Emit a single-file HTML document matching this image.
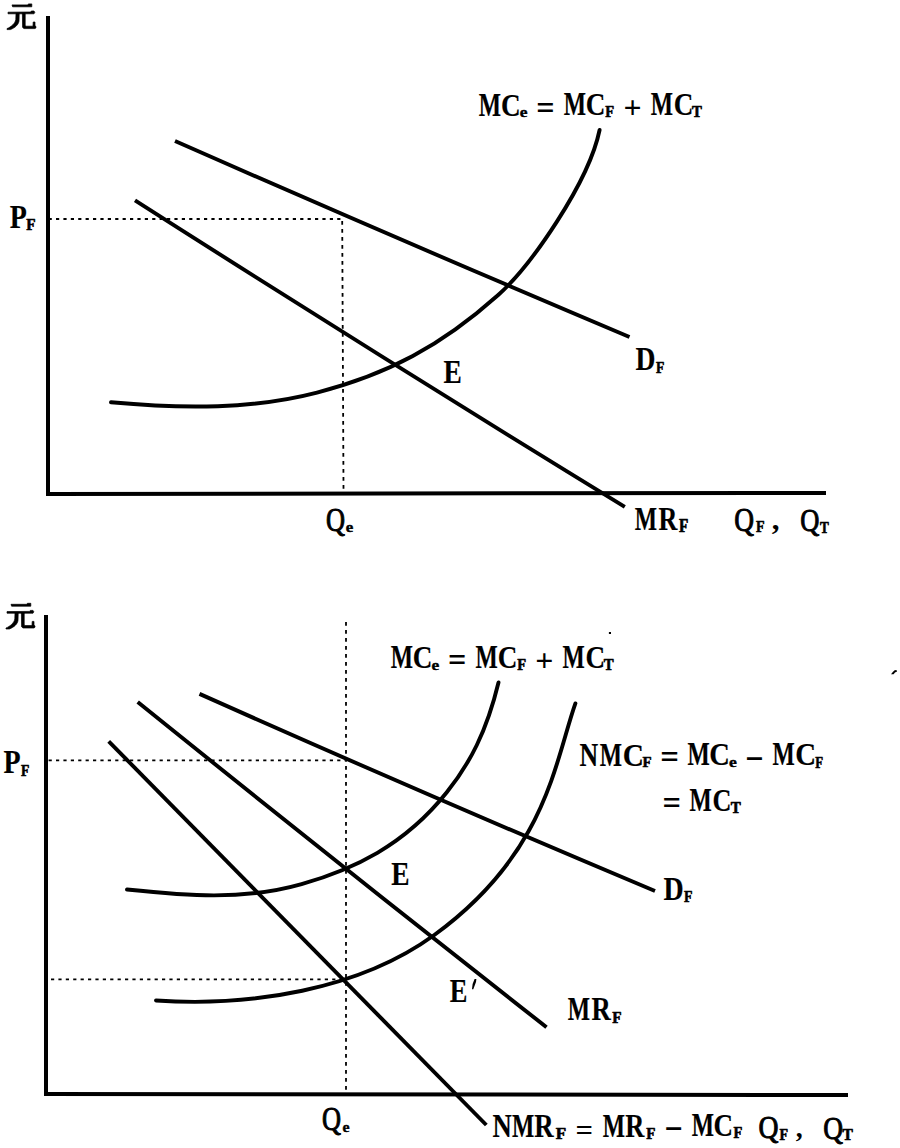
<!DOCTYPE html>
<html><head><meta charset="utf-8"><title>MC diagram</title><style>
html,body{margin:0;padding:0;background:#fff;width:900px;height:1148px;overflow:hidden}
svg{display:block}
text{font-family:"Liberation Serif",serif;font-weight:bold;fill:#000}
</style></head><body>
<svg width="900" height="1148" viewBox="0 0 900 1148">
<path d="M46,16H50V491.9L826,491V495L46,495.9Z" fill="#000"/>
<line x1="48.6" y1="219" x2="343" y2="219" stroke="#000" stroke-width="1.8" stroke-dasharray="3.2 4.2"/>
<line x1="342.2" y1="221" x2="343.5" y2="489" stroke="#000" stroke-width="1.8" stroke-dasharray="3.7 4.3"/>
<path d="M175,141 Q402.25,241.00 629.5,337" fill="none" stroke="#000" stroke-width="3.9" stroke-linecap="butt"/>
<path d="M135,200.3 Q379.90,356.95 624.8,506.8" fill="none" stroke="#000" stroke-width="3.9" stroke-linecap="butt"/>
<path d="M111.0,402.3 C184.3,409.1 253.7,409.1 317.0,392.6 C388.1,374.2 440.9,346.1 498.2,295.0 C530.4,266.3 588.7,183.0 599.6,130.0" fill="none" stroke="#000" stroke-width="3.9" stroke-linecap="round"/>
<path d="M44,615H48V1092L848,1093V1097L44,1096Z" fill="#000"/>
<line x1="48.6" y1="760.3" x2="345" y2="760.3" stroke="#000" stroke-width="1.8" stroke-dasharray="3.2 4.2"/>
<line x1="51" y1="979.3" x2="345" y2="979.3" stroke="#000" stroke-width="1.8" stroke-dasharray="3.2 4.2"/>
<line x1="346" y1="622" x2="346" y2="1093" stroke="#000" stroke-width="1.8" stroke-dasharray="3.7 4.3"/>
<path d="M199.5,693.9 Q427.25,795.45 655,891" fill="none" stroke="#000" stroke-width="3.9" stroke-linecap="butt"/>
<path d="M137.7,702 Q342.10,866.80 546.5,1027.2" fill="none" stroke="#000" stroke-width="3.9" stroke-linecap="butt"/>
<path d="M108.7,741.3 Q297.50,933.95 486.3,1125" fill="none" stroke="#000" stroke-width="3.9" stroke-linecap="butt"/>
<path d="M127.0,889.5 C185.3,895.6 242.8,900.8 301.6,884.1 C352.7,869.6 404.2,845.8 446.8,792.3 C469.8,763.5 486.7,731.5 498.5,682.5" fill="none" stroke="#000" stroke-width="3.9" stroke-linecap="round"/>
<path d="M156.0,1000.5 C250.1,1006.9 359.0,989.9 434.3,935.0 C546.0,853.6 554.7,762.6 575.4,703.4" fill="none" stroke="#000" stroke-width="3.9" stroke-linecap="round"/>
<text transform="matrix(0.2356 0 0 0.3299 478.87 115.50)" font-size="100" stroke="#000" stroke-width="0.6" stroke-linejoin="round">M</text>
<text transform="matrix(0.2719 0 0 0.3245 500.95 115.51)" font-size="100" stroke="#000" stroke-width="0.6" stroke-linejoin="round">C</text>
<text transform="matrix(0.1740 0 0 0.1354 519.67 117.07)" font-size="100" stroke="#000" stroke-width="3.0" stroke-linejoin="round">e</text>
<text transform="matrix(0.3227 0 0 0.3333 536.19 118.56)" font-size="100">=</text>
<text transform="matrix(0.2356 0 0 0.3299 563.67 115.30)" font-size="100" stroke="#000" stroke-width="0.6" stroke-linejoin="round">M</text>
<text transform="matrix(0.2719 0 0 0.3245 585.85 115.31)" font-size="100" stroke="#000" stroke-width="0.6" stroke-linejoin="round">C</text>
<text transform="matrix(0.1451 0 0 0.1713 605.34 117.46)" font-size="100" stroke="#000" stroke-width="4.0" stroke-linejoin="round">F</text>
<text transform="matrix(0.3184 0 0 0.3220 623.52 118.19)" font-size="100">+</text>
<text transform="matrix(0.2356 0 0 0.3299 650.67 115.40)" font-size="100" stroke="#000" stroke-width="0.6" stroke-linejoin="round">M</text>
<text transform="matrix(0.2719 0 0 0.3245 673.75 115.41)" font-size="100" stroke="#000" stroke-width="0.6" stroke-linejoin="round">C</text>
<text transform="matrix(0.1479 0 0 0.1698 692.06 117.46)" font-size="100" stroke="#000" stroke-width="4.0" stroke-linejoin="round">T</text>
<text transform="matrix(0.2765 0 0 0.3299 635.60 369.80)" font-size="100" stroke="#000" stroke-width="0.6" stroke-linejoin="round">D</text>
<text transform="matrix(0.1365 0 0 0.1727 656.04 372.65)" font-size="100" stroke="#000" stroke-width="4.0" stroke-linejoin="round">F</text>
<text transform="matrix(0.2745 0 0 0.3299 443.61 382.80)" font-size="100" stroke="#000" stroke-width="0.6" stroke-linejoin="round">E</text>
<text transform="matrix(0.2356 0 0 0.3299 634.67 529.80)" font-size="100" stroke="#000" stroke-width="0.6" stroke-linejoin="round">M</text>
<text transform="matrix(0.2612 0 0 0.3299 658.53 530.00)" font-size="100" stroke="#000" stroke-width="0.6" stroke-linejoin="round">R</text>
<text transform="matrix(0.1519 0 0 0.1785 679.04 532.24)" font-size="100" stroke="#000" stroke-width="4.0" stroke-linejoin="round">F</text>
<text transform="matrix(0.2637 0 0 0.3383 326.01 530.71)" font-size="100" style="font-weight:normal" stroke="#000" stroke-width="3.0" stroke-linejoin="round">Q</text>
<text transform="matrix(0.1692 0 0 0.1531 345.68 532.43)" font-size="100" stroke="#000" stroke-width="3.0" stroke-linejoin="round">e</text>
<text transform="matrix(0.2738 0 0 0.3348 734.29 530.67)" font-size="100" style="font-weight:normal" stroke="#000" stroke-width="3.0" stroke-linejoin="round">Q</text>
<text transform="matrix(0.1400 0 0 0.1670 756.04 532.27)" font-size="100" stroke="#000" stroke-width="4.0" stroke-linejoin="round">F</text>
<text transform="matrix(0.3120 0 0 0.2916 771.79 528.99)" font-size="100">,</text>
<text transform="matrix(0.2651 0 0 0.3208 800.31 530.72)" font-size="100" style="font-weight:normal" stroke="#000" stroke-width="3.0" stroke-linejoin="round">Q</text>
<text transform="matrix(0.1316 0 0 0.1698 819.96 532.66)" font-size="100" stroke="#000" stroke-width="4.0" stroke-linejoin="round">T</text>
<text transform="matrix(0.2800 0 0 0.3299 9.81 227.70)" font-size="100" stroke="#000" stroke-width="0.6" stroke-linejoin="round">P</text>
<text transform="matrix(0.1519 0 0 0.1655 26.24 230.07)" font-size="100" stroke="#000" stroke-width="4.0" stroke-linejoin="round">F</text>
<path transform="translate(0 0)" d="M12,4.9 L28,4.9 L28.4,3.9 L31.8,3.9 L31.8,6.8 L12.6,6.8 Z M8,12.2 L30.8,12.0 L31.3,11 L34,11 L34.8,12.4 L34,13.8 L8,13.8 Z M16,13.5 L19.2,13.5 L19,21 C18.5,24.5 15.5,27.5 10.4,29.6 L7,29.6 L7,28.6 C11,27 15.2,23.5 15.8,19.5 Z M22.4,13.6 L25.2,13.6 L25.2,25.6 L26,26.2 L33,26.2 L33.2,22 L35,22 L35,25.8 L36,26.5 L36,27.8 L35,28.6 L24,28.6 L22.6,27.4 Z" fill="#000" stroke="#000" stroke-width="0.7" stroke-linejoin="round"><title>元</title></path>
<text transform="matrix(0.2356 0 0 0.3299 390.67 668.20)" font-size="100" stroke="#000" stroke-width="0.6" stroke-linejoin="round">M</text>
<text transform="matrix(0.2719 0 0 0.3245 412.75 668.21)" font-size="100" stroke="#000" stroke-width="0.6" stroke-linejoin="round">C</text>
<text transform="matrix(0.1740 0 0 0.1354 431.47 669.77)" font-size="100" stroke="#000" stroke-width="3.0" stroke-linejoin="round">e</text>
<text transform="matrix(0.3227 0 0 0.3333 447.99 671.26)" font-size="100">=</text>
<text transform="matrix(0.2356 0 0 0.3299 475.47 668.00)" font-size="100" stroke="#000" stroke-width="0.6" stroke-linejoin="round">M</text>
<text transform="matrix(0.2719 0 0 0.3245 497.65 668.01)" font-size="100" stroke="#000" stroke-width="0.6" stroke-linejoin="round">C</text>
<text transform="matrix(0.1451 0 0 0.1713 517.14 670.16)" font-size="100" stroke="#000" stroke-width="4.0" stroke-linejoin="round">F</text>
<text transform="matrix(0.3184 0 0 0.3220 535.32 670.89)" font-size="100">+</text>
<text transform="matrix(0.2356 0 0 0.3299 562.47 668.10)" font-size="100" stroke="#000" stroke-width="0.6" stroke-linejoin="round">M</text>
<text transform="matrix(0.2719 0 0 0.3245 585.55 668.11)" font-size="100" stroke="#000" stroke-width="0.6" stroke-linejoin="round">C</text>
<text transform="matrix(0.1479 0 0 0.1698 603.86 670.16)" font-size="100" stroke="#000" stroke-width="4.0" stroke-linejoin="round">T</text>
<text transform="matrix(0.2586 0 0 0.3299 579.49 765.70)" font-size="100" stroke="#000" stroke-width="0.6" stroke-linejoin="round">N</text>
<text transform="matrix(0.2356 0 0 0.3299 599.67 765.50)" font-size="100" stroke="#000" stroke-width="0.6" stroke-linejoin="round">M</text>
<text transform="matrix(0.2935 0 0 0.3245 622.66 765.51)" font-size="100" stroke="#000" stroke-width="0.6" stroke-linejoin="round">C</text>
<text transform="matrix(0.1485 0 0 0.1540 642.44 767.09)" font-size="100" stroke="#000" stroke-width="4.0" stroke-linejoin="round">F</text>
<text transform="matrix(0.3291 0 0 0.3333 660.16 768.16)" font-size="100">=</text>
<text transform="matrix(0.2356 0 0 0.3299 687.57 765.30)" font-size="100" stroke="#000" stroke-width="0.6" stroke-linejoin="round">M</text>
<text transform="matrix(0.2852 0 0 0.3245 709.19 765.31)" font-size="100" stroke="#000" stroke-width="0.6" stroke-linejoin="round">C</text>
<text transform="matrix(0.1764 0 0 0.1413 728.96 767.46)" font-size="100" stroke="#000" stroke-width="3.0" stroke-linejoin="round">e</text>
<text transform="matrix(0.3227 0 0 0.3724 745.30 770.85)" font-size="100">−</text>
<text transform="matrix(0.2356 0 0 0.3299 772.47 765.40)" font-size="100" stroke="#000" stroke-width="0.6" stroke-linejoin="round">M</text>
<text transform="matrix(0.2885 0 0 0.3245 795.18 765.41)" font-size="100" stroke="#000" stroke-width="0.6" stroke-linejoin="round">C</text>
<text transform="matrix(0.1280 0 0 0.1742 815.24 768.25)" font-size="100" stroke="#000" stroke-width="4.0" stroke-linejoin="round">F</text>
<text transform="matrix(0.3248 0 0 0.3333 662.38 813.76)" font-size="100">=</text>
<text transform="matrix(0.2356 0 0 0.3299 689.47 810.80)" font-size="100" stroke="#000" stroke-width="0.6" stroke-linejoin="round">M</text>
<text transform="matrix(0.2620 0 0 0.3245 712.40 810.81)" font-size="100" stroke="#000" stroke-width="0.6" stroke-linejoin="round">C</text>
<text transform="matrix(0.1508 0 0 0.1756 730.87 812.65)" font-size="100" stroke="#000" stroke-width="4.0" stroke-linejoin="round">T</text>
<text transform="matrix(0.2796 0 0 0.3299 663.39 899.90)" font-size="100" stroke="#000" stroke-width="0.6" stroke-linejoin="round">D</text>
<text transform="matrix(0.1382 0 0 0.1713 683.94 902.46)" font-size="100" stroke="#000" stroke-width="4.0" stroke-linejoin="round">F</text>
<text transform="matrix(0.2745 0 0 0.3299 391.31 884.90)" font-size="100" stroke="#000" stroke-width="0.6" stroke-linejoin="round">E</text>
<text transform="matrix(0.2646 0 0 0.3299 449.63 1001.80)" font-size="100" stroke="#000" stroke-width="0.6" stroke-linejoin="round">E</text>
<path d="M474.6,979 L476.4,979 L476,982 L473.3,989.2 L472,989.2 L472.6,984 Z" fill="#000"/>
<text transform="matrix(0.2356 0 0 0.3299 567.67 1019.90)" font-size="100" stroke="#000" stroke-width="0.6" stroke-linejoin="round">M</text>
<text transform="matrix(0.2667 0 0 0.3299 591.42 1020.10)" font-size="100" stroke="#000" stroke-width="0.6" stroke-linejoin="round">R</text>
<text transform="matrix(0.1519 0 0 0.1742 612.14 1022.55)" font-size="100" stroke="#000" stroke-width="4.0" stroke-linejoin="round">F</text>
<text transform="matrix(0.2637 0 0 0.3325 322.11 1129.71)" font-size="100" style="font-weight:normal" stroke="#000" stroke-width="3.0" stroke-linejoin="round">Q</text>
<text transform="matrix(0.1595 0 0 0.1413 342.49 1131.86)" font-size="100" stroke="#000" stroke-width="3.0" stroke-linejoin="round">e</text>
<text transform="matrix(0.2673 0 0 0.3299 492.57 1136.60)" font-size="100" stroke="#000" stroke-width="0.6" stroke-linejoin="round">N</text>
<text transform="matrix(0.2356 0 0 0.3299 511.97 1136.60)" font-size="100" stroke="#000" stroke-width="0.6" stroke-linejoin="round">M</text>
<text transform="matrix(0.2681 0 0 0.3299 534.32 1136.70)" font-size="100" stroke="#000" stroke-width="0.6" stroke-linejoin="round">R</text>
<text transform="matrix(0.1707 0 0 0.1698 555.85 1138.86)" font-size="100" stroke="#000" stroke-width="4.0" stroke-linejoin="round">F</text>
<text transform="matrix(0.3076 0 0 0.3000 575.47 1139.50)" font-size="100">=</text>
<text transform="matrix(0.2356 0 0 0.3299 602.87 1136.60)" font-size="100" stroke="#000" stroke-width="0.6" stroke-linejoin="round">M</text>
<text transform="matrix(0.2639 0 0 0.3299 625.23 1136.70)" font-size="100" stroke="#000" stroke-width="0.6" stroke-linejoin="round">R</text>
<text transform="matrix(0.1502 0 0 0.1756 646.34 1139.05)" font-size="100" stroke="#000" stroke-width="4.0" stroke-linejoin="round">F</text>
<text transform="matrix(0.3205 0 0 0.3724 664.51 1141.45)" font-size="100">−</text>
<text transform="matrix(0.2356 0 0 0.3299 691.67 1136.40)" font-size="100" stroke="#000" stroke-width="0.6" stroke-linejoin="round">M</text>
<text transform="matrix(0.2702 0 0 0.3245 713.56 1136.41)" font-size="100" stroke="#000" stroke-width="0.6" stroke-linejoin="round">C</text>
<text transform="matrix(0.1451 0 0 0.1756 733.44 1138.45)" font-size="100" stroke="#000" stroke-width="4.0" stroke-linejoin="round">F</text>
<text transform="matrix(0.2766 0 0 0.3208 758.38 1138.42)" font-size="100" style="font-weight:normal" stroke="#000" stroke-width="3.0" stroke-linejoin="round">Q</text>
<text transform="matrix(0.1400 0 0 0.1684 779.54 1140.26)" font-size="100" stroke="#000" stroke-width="4.0" stroke-linejoin="round">F</text>
<text transform="matrix(0.2768 0 0 0.2651 795.64 1136.90)" font-size="100">,</text>
<text transform="matrix(0.2738 0 0 0.3254 823.29 1139.04)" font-size="100" style="font-weight:normal" stroke="#000" stroke-width="3.0" stroke-linejoin="round">Q</text>
<text transform="matrix(0.1553 0 0 0.1727 842.57 1140.15)" font-size="100" stroke="#000" stroke-width="4.0" stroke-linejoin="round">T</text>
<text transform="matrix(0.2800 0 0 0.3299 3.61 772.70)" font-size="100" stroke="#000" stroke-width="0.6" stroke-linejoin="round">P</text>
<text transform="matrix(0.1365 0 0 0.1727 20.94 775.55)" font-size="100" stroke="#000" stroke-width="4.0" stroke-linejoin="round">F</text>
<path transform="translate(-1 599.4)" d="M12,4.9 L28,4.9 L28.4,3.9 L31.8,3.9 L31.8,6.8 L12.6,6.8 Z M8,12.2 L30.8,12.0 L31.3,11 L34,11 L34.8,12.4 L34,13.8 L8,13.8 Z M16,13.5 L19.2,13.5 L19,21 C18.5,24.5 15.5,27.5 10.4,29.6 L7,29.6 L7,28.6 C11,27 15.2,23.5 15.8,19.5 Z M22.4,13.6 L25.2,13.6 L25.2,25.6 L26,26.2 L33,26.2 L33.2,22 L35,22 L35,25.8 L36,26.5 L36,27.8 L35,28.6 L24,28.6 L22.6,27.4 Z" fill="#000" stroke="#000" stroke-width="0.7" stroke-linejoin="round"><title>元</title></path>
<rect x="608.9" y="632" width="2.1" height="2" fill="#000"/>
<path d="M891,674.2 L893,671.8 L895,670 L897,670.6 L897,671.6 L895,672.4 L893.6,674.2 Z" fill="#000"/>
</svg>
</body></html>
